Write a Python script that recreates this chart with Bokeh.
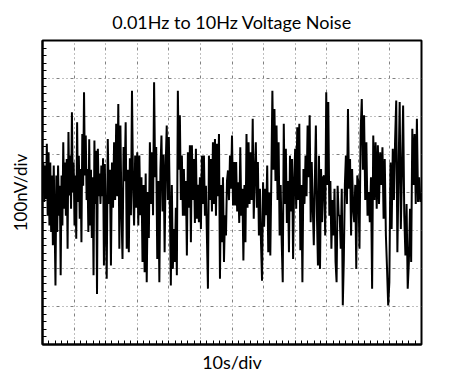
import numpy as np
from bokeh.plotting import figure
from bokeh.models import FixedTicker
from bokeh.embed import file_html
from bokeh.resources import INLINE

# Noise trace (nV), six 20 s segments
seg1 = [10, 79, -25, 71, -17, 128, -61, 106, -87, 79, -104, 45, -139, 71, -78, -245, 45, -104, 71, -61,
        18, -218, 45, -87, 132, -43, 79, -61, 88, -148, 159, -8, 97, -43, 211, 1, 79, -87, 45, -122,
        185, -25, 97, -69, 62, -131, 154, 18, 264, 45, 150, -20, 62, -104, 140, -87, 60, -120, 40, -218,
        137, -30, 110, -267, 115, -10, 50, -30, 71, -10, 90, -192, 75]
seg2 = [-60, -227, 141, -30, 60, -192, 79, -40, 132, -20, 181, -10, 233, -148, 176, -50, -175, 120, 30, 185,
        -148, 60, -157, 90, -60, 268, 20, -87, 97, -40, 106, -87, 97, -60, 40, -183, 20, -210, 50, -236,
        1, -120, 132, -30, 106, -60, 290, 40, 120, -175, 30, -236, 60, 150, -50, 100, -157, 70, 176, -20]
seg3 = [146, -30, -245, 20, -201, -96, -183, -40, -218, 268, 60, 203, -20, 97, -61, 62, -61, 30, -166, 106,
        -40, 124, -131, 124, -20, 88, -80, 115, -69, 20, -78, 40, -96, 97, -30, 97, -61, 18, -120, -253,
        97, -20, 88, -50, 132, -30, 141, -61, 128, -10, 154, -227, 20, -131, 40, -183, -60, -113, 30, 58,
        -20, 97, 10]
seg4 = [150, -34, 80, -34, 80, -50, 27, -80, 119, -61, 10, -179, 20, -131, 154, -40, 132, -30, 106, -20,
        194, -69, 50, 132, -40, 80, -113, 10, -131, -232, 27, -90, 10, -60, 71, -157, 0, -166, 40, 268,
        60, 220, 30, 176, -20, 132, -113, 20, -131, -236, 181, -30, 115, -80, 30, -157, 97, -50, 88, -175, 27]
seg5 = [115, -43, 172, -20, 181, -152, 20, -236, 62, -30, 97, -10, 176, 40, 203, -78, 80, -40, -139, 30,
        176, -60, -192, 97, -201, 62, -78, 40, 45, -113, 264, 20, 238, -61, 30, -148, -20, -113, 10, -183,
        -236, 18, -60, -61, -148, 10, -297, -175, 20, 97, -30, 220, 10, 88, -113, 62, -40, -78, 20, -201, 45]
seg6 = [27, -148, 159, 246, 60, 203, -20, 132, -61, 1, -78, 40, -253, 150, -20, 132, -43, 124, -30, 106,
        20, 119, -69, 88, -113, -201, -297, -236, 79, -96, 115, -20, 137, 242, -157, 50, 238, -96, 60, 229,
        -61, -166, -30, -253, -183, -43, -183, 168, 20, 154, -30, 194, -25, 40, -25]
segments = [seg1, seg2, seg3, seg4, seg5, seg6]
seg_start = [0, 20, 40, 60, 80, 100]   # s
seg_len = 20                            # s

x_grid = list(range(0, 121, 10))        # 10 s/div
y_grid = list(range(-400, 401, 100))    # 100 nV/div
x_minor = list(range(0, 121, 2))
y_minor = list(range(-400, 401, 20))

t, v = [], []
for s0, seg in zip(seg_start, segments):
    n = len(seg)
    t.extend(s0 + seg_len * i / n for i in range(n))
    v.extend(seg)

p = figure(width=444, height=380, output_backend="svg", toolbar_location=None,
           x_range=(0, 120), y_range=(-400, 400),
           min_border_left=42, min_border_right=23, min_border_top=40, min_border_bottom=36,
           title="0.01Hz to 10Hz Voltage Noise")
p.background_fill_color = "white"
p.border_fill_color = "white"
p.outline_line_color = "black"
p.outline_line_width = 2

p.title.align = "center"
p.title.text_font = "Lato"
p.title.text_font_size = "18px"
p.title.text_font_style = "normal"
p.title.text_color = "black"
p.title.standoff = 15

p.line(t, v, line_color="black", line_width=2)

for ax in (p.xaxis, p.yaxis):
    ax.axis_line_width = 2
    ax.axis_line_color = "black"
    ax.major_tick_in = 0
    ax.major_tick_out = 0
    ax.minor_tick_in = 4
    ax.minor_tick_out = 0
    ax.minor_tick_line_color = "black"
    ax.axis_label_text_font = "Lato"
    ax.axis_label_text_font_style = "normal"
    ax.axis_label_text_color = "black"

# only tick marks, no tick labels: all marks drawn as minor ticks
p.xaxis.ticker = FixedTicker(ticks=[], minor_ticks=x_minor)
p.yaxis.ticker = FixedTicker(ticks=[], minor_ticks=y_minor)
p.xaxis.axis_label = "10s/div"
p.yaxis.axis_label = "100nV/div"
p.xaxis.axis_label_text_font_size = "18px"
p.yaxis.axis_label_text_font_size = "17px"
p.xaxis.axis_label_standoff = 6
p.yaxis.axis_label_standoff = 12

for g in (p.xgrid, p.ygrid):
    g.grid_line_color = "#808080"
    g.grid_line_dash = "3 3 1 3 1 3"
    g.grid_line_width = 1
p.xgrid.ticker = FixedTicker(ticks=x_grid)
p.ygrid.ticker = FixedTicker(ticks=y_grid)

open("out.html", "w").write(file_html(p, INLINE))
